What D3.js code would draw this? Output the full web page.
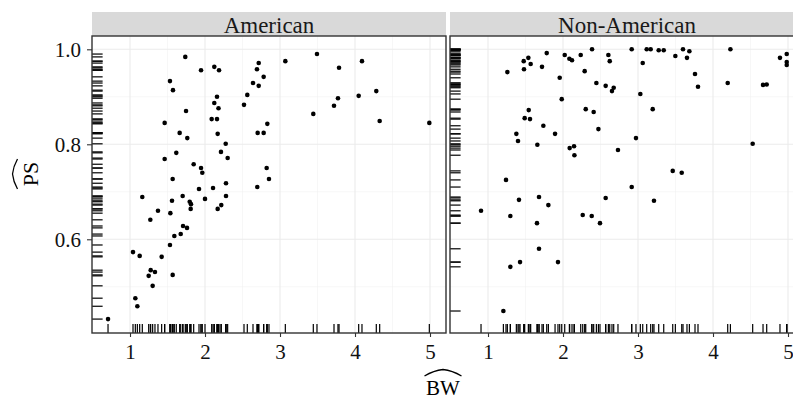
<!DOCTYPE html>
<html>
<head>
<meta charset="utf-8">
<script src="https://cdn.jsdelivr.net/npm/d3@7"></script>
<style>
  body { margin: 0; background: #fff; }
  svg { display: block; }
  svg text { font-family: "Liberation Serif", "Times New Roman", serif; }
</style>
</head>
<body>
<div id="chart"></div>
<script>
// panels
const panelNames = ["American", "Non-American"];

// American
const amBW = [1.737, 3.071, 2.716, 2.124, 1.947, 2.187, 2.693, 2.782, 1.533, 2.640,
  2.716, 1.573, 2.160, 2.564, 2.124, 2.520, 2.180, 1.747, 2.089, 2.160,
  1.462, 2.831, 1.662, 2.169, 2.702, 2.782, 1.764, 2.276, 1.617, 2.213,
  1.462, 2.302, 1.849, 1.947, 2.822, 1.964, 1.569, 2.853, 2.280, 1.920,
  2.107, 2.697, 1.164, 1.702, 2.000, 2.280, 1.560, 1.796, 1.813, 1.809,
  2.217, 2.169, 1.373, 1.538, 1.271, 1.707, 1.760, 1.676, 1.591, 1.533,
  1.040, 1.129, 1.422, 1.276, 1.333, 1.249, 1.569, 1.302, 1.071, 1.098,
  0.707, 3.493, 4.093, 3.787, 4.284, 3.773, 4.049, 3.720, 3.444, 4.329,
  4.991];
const amPS = [0.984, 0.975, 0.971, 0.963, 0.956, 0.956, 0.958, 0.942, 0.933, 0.929,
  0.923, 0.914, 0.900, 0.904, 0.887, 0.883, 0.876, 0.870, 0.853, 0.853,
  0.845, 0.843, 0.824, 0.822, 0.824, 0.824, 0.813, 0.801, 0.782, 0.784,
  0.769, 0.771, 0.758, 0.750, 0.750, 0.740, 0.727, 0.727, 0.718, 0.706,
  0.708, 0.710, 0.689, 0.691, 0.685, 0.691, 0.681, 0.679, 0.674, 0.664,
  0.672, 0.664, 0.660, 0.655, 0.641, 0.628, 0.624, 0.611, 0.607, 0.588,
  0.573, 0.565, 0.563, 0.535, 0.531, 0.523, 0.525, 0.502, 0.476, 0.459,
  0.432, 0.990, 0.975, 0.961, 0.912, 0.897, 0.902, 0.881, 0.864, 0.849,
  0.845];

// Non-American
const nonBW = [1.783, 2.387, 2.023, 2.236, 2.605, 1.538, 1.476, 2.085, 2.120, 2.623,
  1.569, 1.720, 1.480, 1.258, 2.289, 1.956, 2.445, 2.569, 2.676, 2.653,
  1.983, 1.543, 2.303, 2.409, 1.489, 1.560, 1.738, 2.472, 1.378, 1.894,
  1.400, 1.658, 2.089, 2.147, 2.733, 2.152, 1.240, 0.907, 1.413, 1.680,
  1.805, 2.569, 1.298, 1.653, 2.263, 2.383, 2.493, 1.680, 1.427, 1.933,
  1.298, 1.205, 2.916, 3.116, 3.169, 3.276, 3.343, 3.600, 3.685, 3.498,
  3.653, 3.063, 3.760, 3.800, 4.232, 4.196, 4.983, 4.893, 4.983, 4.983,
  4.667, 4.716, 3.031, 3.196, 2.973, 4.529, 3.463, 3.583, 2.916, 3.213];
const nonPS = [0.992, 1.000, 0.988, 0.988, 0.988, 0.982, 0.975, 0.980, 0.977, 0.975,
  0.969, 0.963, 0.958, 0.952, 0.954, 0.940, 0.929, 0.923, 0.919, 0.912,
  0.895, 0.872, 0.874, 0.868, 0.855, 0.853, 0.839, 0.832, 0.822, 0.822,
  0.807, 0.799, 0.792, 0.796, 0.788, 0.777, 0.725, 0.660, 0.683, 0.689,
  0.672, 0.687, 0.649, 0.634, 0.651, 0.649, 0.634, 0.580, 0.552, 0.552,
  0.542, 0.449, 1.000, 1.000, 1.000, 0.998, 0.998, 1.000, 0.996, 0.986,
  0.982, 0.971, 0.948, 0.921, 1.000, 0.929, 0.990, 0.982, 0.973, 0.967,
  0.925, 0.926, 0.906, 0.874, 0.813, 0.801, 0.744, 0.740, 0.710, 0.681];

const xTicks = [1, 2, 3, 4, 5];
const xMinor = [1.5, 2.5, 3.5, 4.5];
const yTicks = [0.6, 0.8, 1.0];
const yMinor = [0.5, 0.7, 0.9];
const xTitle = "BW";
const yTitle = "PS";

const W = 793, H = 399;
const panelW = 354, panelH = 297, panelTop = 36, stripH = 24;
const panelLeft = [92, 450];
const serif = "'Liberation Serif', 'Times New Roman', serif";

const svg = d3.select("#chart").append("svg")
  .attr("width", W).attr("height", H);

const x = d3.scaleLinear().domain([0.4933, 5.2133]).range([0, panelW]);
const y = d3.scaleLinear().domain([0.4027, 1.028]).range([panelH, 0]);

const series = [
  amBW.map((v, i) => ({ bw: v, ps: amPS[i] })),
  nonBW.map((v, i) => ({ bw: v, ps: nonPS[i] }))
];

panelNames.forEach((name, p) => {
  const g = svg.append("g")
    .attr("transform", `translate(${panelLeft[p]},${panelTop})`);

  // strip
  g.append("rect")
    .attr("x", 0).attr("y", -stripH)
    .attr("width", panelW).attr("height", stripH)
    .attr("fill", "#d9d9d9");
  g.append("text")
    .attr("x", panelW / 2).attr("y", -3)
    .attr("text-anchor", "middle")
    .style("font-family", serif)
    .style("font-size", "23px")
    .attr("fill", "#1a1a1a")
    .text(name);

  // grid
  g.selectAll(".gxm").data(xMinor).enter().append("line")
    .attr("x1", d => x(d)).attr("x2", d => x(d))
    .attr("y1", 0).attr("y2", panelH)
    .attr("stroke", "#f2f2f2").attr("stroke-width", 0.6);
  g.selectAll(".gym").data(yMinor).enter().append("line")
    .attr("x1", 0).attr("x2", panelW)
    .attr("y1", d => y(d)).attr("y2", d => y(d))
    .attr("stroke", "#f2f2f2").attr("stroke-width", 0.6);
  g.selectAll(".gx").data(xTicks).enter().append("line")
    .attr("x1", d => x(d)).attr("x2", d => x(d))
    .attr("y1", 0).attr("y2", panelH)
    .attr("stroke", "#ebebeb").attr("stroke-width", 1.1);
  g.selectAll(".gy").data(yTicks).enter().append("line")
    .attr("x1", 0).attr("x2", panelW)
    .attr("y1", d => y(d)).attr("y2", d => y(d))
    .attr("stroke", "#ebebeb").attr("stroke-width", 1.1);

  const data = series[p];

  // rugs
  const rugX = 0.03 * panelW, rugY = 0.03 * panelH;
  g.selectAll(".rugy").data(data).enter().append("line")
    .attr("x1", 0).attr("x2", rugX)
    .attr("y1", d => y(d.ps)).attr("y2", d => y(d.ps))
    .attr("stroke", "#000").attr("stroke-width", 1.2);
  g.selectAll(".rugx").data(data).enter().append("line")
    .attr("x1", d => x(d.bw)).attr("x2", d => x(d.bw))
    .attr("y1", panelH).attr("y2", panelH - rugY)
    .attr("stroke", "#000").attr("stroke-width", 1.2);

  // points
  g.selectAll("circle").data(data).enter().append("circle")
    .attr("cx", d => x(d.bw)).attr("cy", d => y(d.ps))
    .attr("r", 2.3).attr("fill", "#000");

  // border
  g.append("rect")
    .attr("x", 0).attr("y", 0)
    .attr("width", panelW).attr("height", panelH)
    .attr("fill", "none").attr("stroke", "#333").attr("stroke-width", 1.4);

  // x axis
  const xa = g.append("g")
    .attr("transform", `translate(0,${panelH})`)
    .call(d3.axisBottom(x).tickValues(xTicks).tickFormat(d3.format("d"))
      .tickSize(4).tickPadding(7));
  xa.select(".domain").remove();
  xa.selectAll("line").attr("stroke", "#333").attr("stroke-width", 1.1);
  xa.selectAll("text").style("font-size", "21px")
    .style("font-family", serif).attr("fill", "#111");

  if (p === 0) {
    const ya = g.append("g")
      .call(d3.axisLeft(y).tickValues(yTicks).tickFormat(d3.format(".1f"))
        .tickSize(5).tickPadding(6));
    ya.select(".domain").remove();
    ya.selectAll("line").attr("stroke", "#333").attr("stroke-width", 1.1);
    ya.selectAll("text").style("font-size", "21px")
      .style("font-family", serif).attr("fill", "#111");
  }
});

// wide hat drawn over a label
function hat(sel, cx, top, w, h) {
  sel.append("path")
    .attr("d", `M${cx - w / 2},${top + h} Q${cx - w / 4},${top + h * 0.15} ${cx},${top}` +
      ` Q${cx + w / 4},${top + h * 0.15} ${cx + w / 2},${top + h}`)
    .attr("fill", "none").attr("stroke", "#000").attr("stroke-width", 1.3);
}

// x title
const xt = svg.append("g");
xt.append("text")
  .attr("x", 443).attr("y", 394.5)
  .attr("text-anchor", "middle")
  .style("font-family", serif)
  .style("font-size", "21px")
  .text(xTitle);
hat(xt, 443, 369.5, 37, 6.5);

// y title
const yt = svg.append("g")
  .attr("transform", "translate(38,174) rotate(-90)");
yt.append("text")
  .attr("x", 0).attr("y", 0)
  .attr("text-anchor", "middle")
  .style("font-family", serif)
  .style("font-size", "22px")
  .text(yTitle);
hat(yt, 0, -25.5, 30, 5);
</script>
</body>
</html>
